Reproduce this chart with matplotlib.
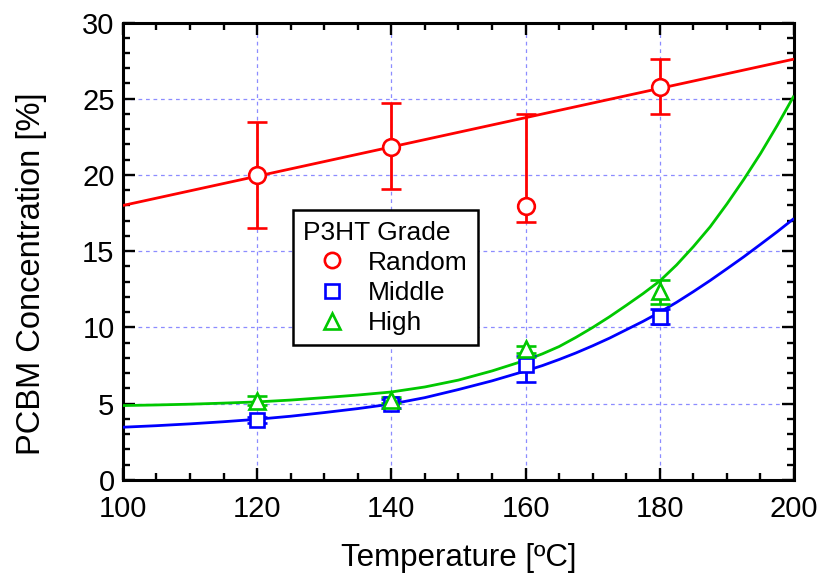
import matplotlib
matplotlib.use("Agg")
import matplotlib.pyplot as plt
from matplotlib.ticker import MultipleLocator
from matplotlib.lines import Line2D

plt.rcParams['font.family'] = ['Liberation Sans', 'DejaVu Sans']

# ---- data ----
temps = [120, 140, 160, 180]

random_y = [20.0, 21.86, 17.97, 25.8]
random_lo = [3.45, 2.8, 1.07, 1.8]
random_hi = [3.45, 2.85, 6.0, 1.8]

middle_y = [3.93, 5.0, 7.54, 10.72]
middle_lo = [0.2, 0.3, 1.1, 0.52]
middle_hi = [0.2, 0.3, 0.6, 0.52]

high_y = [5.2, 5.25, 8.6, 12.4]
high_lo = [0.3, 0.2, 0.25, 0.85]
high_hi = [0.3, 0.2, 0.2, 0.7]

# fitted lines
random_fit_t = [100, 200]
random_fit_y = [18.0, 27.6]

fit_t = [100, 105, 110, 115, 120, 125, 130, 135, 140, 145, 150, 155,
         160, 162.5, 165, 167.5, 170, 172.5, 175, 177.5, 180, 182.5,
         185, 187.5, 190, 192.5, 195, 197.5, 200]
high_fit_y = [4.88, 4.92, 4.97, 5.04, 5.12, 5.24, 5.40, 5.57, 5.77, 6.10, 6.55, 7.15,
              7.85, 8.27, 8.75, 9.35, 10.0, 10.7, 11.45, 12.22, 13.05, 14.1,
              15.3, 16.6, 18.1, 19.7, 21.4, 23.25, 25.2]
middle_fit_y = [3.46, 3.56, 3.68, 3.82, 3.98, 4.18, 4.42, 4.68, 4.98, 5.40, 5.93, 6.50,
                7.15, 7.50, 7.90, 8.33, 8.80, 9.30, 9.85, 10.4, 11.0, 11.65,
                12.35, 13.08, 13.85, 14.63, 15.45, 16.28, 17.15]

labels = ['Random', 'Middle', 'High']
colors = ['#ff0000', '#0000ff', '#00c800']
markers = ['o', 's', '^']

fig = plt.figure(figsize=(8.19, 5.74), dpi=100)
ax = fig.add_axes([0.150, 0.1638, 0.8195, 0.797])

ax.set_xlim(100, 200)
ax.set_ylim(0, 30)

ax.grid(True, which='major', color='#8c8cff', linestyle=(0, (3, 3)), linewidth=0.9)
ax.set_axisbelow(True)

# fit lines
lw = 2.0
for t, y, c in [(random_fit_t, random_fit_y, colors[0]),
                (fit_t, middle_fit_y, colors[1]),
                (fit_t, high_fit_y, colors[2])]:
    ax.plot(t, y, color=c, lw=lw, zorder=3, solid_joinstyle='round',
            solid_capstyle='butt')

series = [(random_y, random_lo, random_hi), (middle_y, middle_lo, middle_hi),
          (high_y, high_lo, high_hi)]
for (y, lo, hi), c, m in zip(series, colors, markers):
    ax.errorbar(temps, y, yerr=[lo, hi], fmt=m, color=c, ecolor=c,
                elinewidth=2.0, capsize=7, capthick=2.0,
                markersize=12 if m != 's' else 10.5, markerfacecolor='white',
                markeredgecolor=c, markeredgewidth=1.9, zorder=4)

ax.xaxis.set_major_locator(MultipleLocator(20))
ax.xaxis.set_minor_locator(MultipleLocator(5))
ax.yaxis.set_major_locator(MultipleLocator(5))
ax.yaxis.set_minor_locator(MultipleLocator(1))
ax.tick_params(which='both', direction='in', top=True, right=True, width=1.7)
ax.tick_params(which='major', length=8.5, labelsize=21)
ax.tick_params(axis='x', which='major', pad=11)
ax.tick_params(axis='y', which='major', pad=6)
ax.tick_params(which='minor', length=5)
for s in ax.spines.values():
    s.set_linewidth(2.2)

ax.set_xlabel('Temperature [ºC]', fontsize=22.5, labelpad=14)
ax.set_ylabel('PCBM Concentration [%]', fontsize=23.5, labelpad=25)
ax.yaxis.label.set_y(0.45)

handles = [Line2D([], [], linestyle='none', marker=m, markersize=11 if m != 's' else 10,
                  markerfacecolor='white', markeredgecolor=c, markeredgewidth=1.9)
           for c, m in zip(colors, markers)]
leg = ax.legend(handles, labels, title='P3HT Grade', loc='upper left',
                bbox_to_anchor=(0.253, 0.590), borderaxespad=0, fontsize=19,
                title_fontsize=19, fancybox=False, framealpha=1, edgecolor='black',
                handlelength=2.2, handletextpad=0.25, labelspacing=0.23,
                borderpad=0.4)
leg._legend_box.align = 'left'
leg.get_frame().set_linewidth(1.8)
leg.set_zorder(5)

fig.savefig('out.png', dpi=100)
